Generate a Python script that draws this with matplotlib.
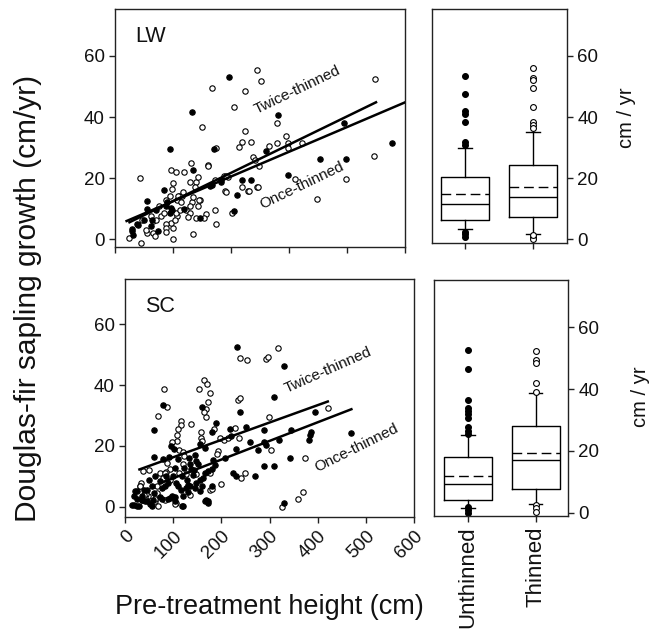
import matplotlib
matplotlib.use('Agg')
import matplotlib.pyplot as plt
import numpy as np

plt.rcParams['font.family'] = ['Liberation Sans', 'DejaVu Sans']

# ---------------- LW scatter data ----------------
lw_open_x = [244.6, 251.4, 167.4, 224.6, 448.6, 204.6, 280, 150.3, 224.6, 294.3, 218.3, 234.9, 214.3,
             322.9, 298.9, 280, 265.7, 298.9, 174.3, 445.7, 237.1, 241.1, 248.6, 130.3, 160, 309.7,
             398.3, 349.1, 42.9, 96.6, 118.3, 104.6, 100, 97.7, 128.6, 138.9, 142.9, 137.7, 173.1,
             188.6, 194.3, 189.7, 218.3, 229.1, 244.6, 110.3, 115.4, 106.9, 94.3, 88.6, 76, 132,
             128.6, 145.7, 142.3, 121.7, 128.6, 157.1, 153.1, 173.1, 140, 126.3, 201.7, 174.3,
             134.3, 100, 100, 97.1, 87.4, 87.4, 87.4, 65.7, 68.6, 55.4, 54.3, 65.7, 71.4, 78.9,
             106.9, 102.9, 45.7, 24, 44.6, 61.7, 84.6, 104.6, 111.4, 134.3, 144.6, 117.1, 108.6,
             114.3, 160.9, 190.8, 191.4, 246, 231]
lw_open_y = [55.3, 51.9, 49.4, 48.6, 52.5, 43.3, 38, 36.7, 35.3, 33.7, 31.7, 31.9, 30.2,
             31.5, 31.5, 31.5, 30.4, 29.8, 29.8, 27.1, 26.9, 26, 23.8, 24.9, 24.2, 19.7,
             19.7, 13.1, 20, 22.5, 21.9, 21.9, 18.4, 16.4, 18.6, 18.6, 20.3, 16.9, 19.5,
             20.8, 20.5, 15.6, 17, 15.6, 17, 14, 14.2, 12.9, 14, 12.9, 10.7, 12.3,
             11, 12.9, 10.9, 9.6, 8.5, 8.2, 6.9, 9.4, 6.9, 7.1, 8.5, 5,
             1.7, 0, 3.6, 5.2, 5, 3.6, 2.3, 2, 1.1, 2, 3.1, 5.8, 6.3, 7.4,
             7.4, 6.3, 6.3, 0.2, -1.3, 7.7, 8.5, 8.7, 9.4, 13.7, 12.9, 15.5, 14,
             12.3, 24, 15.5, 20.7, 17.1, 15.7]
lw_fill_x = [196, 133.1, 280.6, 394.9, 260, 94.3, 170.3, 478.3, 354.3, 398.3, 298.9, 134.3, 84,
             164, 182.9, 218.3, 234.3, 210.3, 89.7, 55.4, 55.4, 70.3, 87.4, 97.1, 118.9, 147.4,
             204.6, 74.3, 62.9, 64.6, 50.3, 37.1, 28.6, 30.3, 28.6, 40, 94.3, 98.9, 166.7, 182.2]
lw_fill_y = [53, 41.7, 40.7, 38, 28.7, 29.6, 29.6, 31.5, 26.2, 26.2, 21.1, 22.5, 16.2,
             17.5, 19.5, 19.5, 19.5, 14.5, 12.3, 12.6, 9.8, 9.6, 10.9, 10.2, 9.8, 6.9,
             9.2, 2.8, 4.2, 6.3, 6.3, 5, 3.3, 1.4, 2.5, 4.6, 8.5, 9.6, 17.7, 18.8]

# regression lines (x extent, slope, intercept)
lw_twice_x = [25, 450]
lw_twice_coef = [0.0925, 3.2]
lw_once_x = [20, 500]
lw_once_coef = [0.081, 4.3]

# ---------------- SC scatter data ----------------
sc_open_x = [80, 165, 152.6, 238.8, 252.6, 292, 297.5, 318, 86.2, 69, 117.2, 137.9, 117.2, 110.3,
             108.3, 108.3, 98.6, 112.4, 120.7, 86.2, 122.1, 93.1, 84.1, 72.4, 50.3, 37.9, 77.9,
             65.5, 32.4, 31, 48.3, 63.4, 69, 62.1, 105.5, 34.5, 43.4, 170.3, 175.9, 172.4, 167.6,
             169, 164.1, 184.1, 158.6, 158.6, 160.7, 197.9, 205.5, 213.8, 193.1, 191, 177.2,
             112.4, 148.3, 175.9, 200, 127.6, 120.7, 93.1, 234.6, 237.9, 298.8, 422.4, 227.7,
             236, 303.5, 374.7, 240.2, 250, 326.5, 358.8, 369, 42, 62.7, 83.4, 104.1, 31.7,
             66.2, 38.6, 135.1, 179.9, 83.4]
sc_open_y = [38.7, 41.8, 38.7, 48.9, 48.1, 48.6, 49.2, 52.2, 32.9, 29.9, 28.2, 27.1, 26.8, 25.5,
             23.6, 21.6, 21.3, 18.7, 18, 14.5, 16.7, 12.3, 11.4, 11, 12, 11.8, 9.6,
             7, 7.9, 7, 3.5, 3.5, 0.2, 1.9, 1.3, 2.4, 4.4, 40.3, 37.4, 34.3, 32.3,
             29.6, 31, 25.7, 24.6, 22.7, 21.6, 22.5, 21.9, 22.7, 18.4, 17.3, 11,
             11, 10.7, 5.5, 7.4, 10.7, 14, 9, 35, 35.6, 29.5, 32.5, 25.9,
             22.6, 18.8, 16, 9.6, 11.3, 0, 2.5, 4.8, 2.9, 2.6, 2.3, 1, 6.9,
             4.7, 4, 4, 5.8, 11.1]
sc_fill_x = [233, 330, 78, 60.7, 94.5, 101.4, 60, 77.9, 91.7, 109.7, 103.4, 84.8, 72.4, 82.8, 40,
             20.7, 19.3, 25.5, 13.8, 24.1, 55.2, 57.2, 44.8, 75.9, 89.7, 98.6, 103.4, 120.7, 34.5,
             41.4, 160, 189.7, 181.4, 155.2, 165.5, 182.8, 186.2, 181.4, 172.4, 165.5, 151.7,
             144.8, 133.1, 134.5, 122.1, 142.8, 162.1, 156.6, 146.9, 134.5, 127.6, 131, 110.3,
             117.2, 155.2, 167.6, 172.4, 181.4, 137.9, 148.3, 100, 105.5, 120.7, 309, 239.5, 395,
             217.4, 220.7, 252, 288.4, 343.7, 386.5, 385, 383, 469, 258.8, 288.4, 293.4, 319.5,
             231.3, 276, 207, 343, 224.2, 231.3, 269, 288.4, 309, 330, 18, 28.3, 35.2, 52.4, 73,
             93.7, 104.1, 119.3, 24.8, 45.5, 55.9, 76.6, 90.3, 59.3, 131.7, 145.5, 159.3, 166.2,
             173, 117.9, 128.3, 142.1, 62.7, 49]
sc_fill_y = [52.4, 46.4, 33.5, 25.3, 20, 19.1, 16.5, 15.6, 16.5, 15.8, 12.9, 10.1, 8.5, 6.8, 5.7,
             5.2, 3.5, 2.6, 0.8, 0.4, 0.4, 2.4, 2.1, 2.6, 2.6, 3.5, 1.9, 0.4, 3.5,
             1.9, 32.9, 27.5, 24.7, 20.5, 19.5, 15.3, 13.6, 12.5, 11.8, 11.2, 14,
             16.9, 16.2, 14, 12.9, 12, 9.6, 8.8, 7.9, 6.8, 6.3, 4.8, 6.8,
             5.7, 5.2, 2.4, 2.1, 7, 12.3, 15.1, 10.1, 7.9, 3.5, 36.1, 31.2, 31,
             25.6, 23.3, 26.1, 25.1, 25.3, 24.7, 23.6, 22.1, 24.2, 21.2, 21.2, 20.4, 22,
             19, 18.8, 16, 16, 11.1, 10, 10.2, 13.5, 13.5, 1.4, 0.7, 0.4, 2.3, 1, 3.4,
             2.9, 3.4, 0.4, 5.1, 5.6, 6.8, 6.1, 7.8, 4.7, 7.3, 6.1, 6.8, 1.8,
             1.3, 10, 8.9, 10.5, 10, 8.9]

sc_twice_x = [30, 421]
sc_twice_coef = [0.057, 10.6]
sc_once_x = [80, 470]
sc_once_coef = [0.0612, 3.3]

# ---------------- Box plot summaries ----------------
box_labels = ['Unthinned', 'Thinned']
# LW
lw_q1 = [6.2, 7.1]
lw_med = [11.4, 13.8]
lw_q3 = [20.4, 24.2]
lw_mean = [14.8, 16.9]
lw_whislo = [3.3, 1.6]
lw_whishi = [29.9, 35.2]
lw_fliers_unthinned = [53.4, 47.4, 42, 41, 38.3, 31.9, 30.8, 2.4, 1.6, 0.8]
lw_fliers_thinned = [56, 52.7, 52, 49.4, 43.4, 38.5, 37.4, 36.3, 0.8, 0.0, 1.2]
# SC
sc_q1 = [4.2, 7.7]
sc_med = [9.3, 17.2]
sc_q3 = [18.1, 28.0]
sc_mean = [12.0, 19.4]
sc_whislo = [1.5, 2.9]
sc_whishi = [25.1, 38.6]
sc_fliers_unthinned = [52.7, 46.6, 36.4, 34, 32.9, 31.8, 30.7, 27.7, 26.6, 25.5, 2.0, 0.9, 0.1]
sc_fliers_thinned = [52.4, 49.4, 48.4, 42.1, 38.9, 2.6, 1.5, 0.4]

# ---------------- Figure ----------------
W, H = 652, 641
fig = plt.figure(figsize=(W / 100, H / 100), dpi=100)


def px_axes(x0, y0, x1, y1):
    return fig.add_axes([x0 / W, 1 - y1 / H, (x1 - x0) / W, (y1 - y0) / H])


ax_lw = px_axes(115, 9, 405, 247)
ax_lwb = px_axes(432, 9, 567, 243)
ax_sc = px_axes(125, 279, 414, 517)
ax_scb = px_axes(434, 280, 568, 516)

spine_col = '#222222'
tick_fs = 13.5
ms = 15


def style(ax):
    for s in ax.spines.values():
        s.set_color(spine_col)
        s.set_linewidth(1.0)
    ax.tick_params(direction='out', length=4, width=1, colors=spine_col,
                   labelcolor='#111111', labelsize=tick_fs)


def scatter_panel(ax, ox, oy, fx, fy, tw_x, tw_c, on_x, on_c, xmax, ylim, tag,
                  tw_pos, on_pos, tw_ang, on_ang):
    ax.scatter(ox, oy, s=ms, facecolors='white', edgecolors='black', linewidths=0.8, zorder=3)
    ax.scatter(fx, fy, s=ms, facecolors='black', edgecolors='black', linewidths=0.8, zorder=3)
    tx = np.array(tw_x)
    ax.plot(tx, tw_c[0] * tx + tw_c[1], color='black', lw=1.8, zorder=4)
    oxl = np.array(on_x)
    ax.plot(oxl, on_c[0] * oxl + on_c[1], color='black', lw=1.8, zorder=4)
    ax.set_xlim(0, xmax)
    ax.set_ylim(*ylim)
    ax.set_yticks([0, 20, 40, 60])
    ax.set_xticks(np.arange(0, xmax + 1, 100))
    ax.text(0.07, 0.86, tag, transform=ax.transAxes, fontsize=15.5, color='#111111')
    ax.text(tw_pos[0], tw_pos[1], 'Twice-thinned', rotation=tw_ang, fontsize=11,
            ha='center', va='center', color='#111111', rotation_mode='anchor')
    ax.text(on_pos[0], on_pos[1], 'Once-thinned', rotation=on_ang, fontsize=11,
            ha='center', va='center', color='#111111', rotation_mode='anchor')
    style(ax)


scatter_panel(ax_lw, lw_open_x, lw_open_y, lw_fill_x, lw_fill_y,
              lw_twice_x, lw_twice_coef, lw_once_x, lw_once_coef,
              500, (-2.6, 75.4), 'LW', (315, 49), (322, 17.4), 25.7, 25.7)
ax_lw.set_xticklabels([])

scatter_panel(ax_sc, sc_open_x, sc_open_y, sc_fill_x, sc_fill_y,
              sc_twice_x, sc_twice_coef, sc_once_x, sc_once_coef,
              600, (-3.3, 74.8), 'SC', (421, 45), (480, 19.3), 24, 26.5)
for lab in ax_sc.get_xticklabels():
    lab.set_rotation(45)
    lab.set_ha('right')
    lab.set_va('top')
    lab.set_rotation_mode('anchor')


def box_panel(ax, q1, med, q3, mean, wlo, whi, fl_u, fl_t, xlim, ylim, show_labels):
    stats = []
    for i, fl in enumerate([fl_u, fl_t]):
        stats.append(dict(q1=q1[i], med=med[i], q3=q3[i], mean=mean[i],
                          whislo=wlo[i], whishi=whi[i], fliers=fl, label=box_labels[i]))
    res = ax.bxp(stats, positions=[1, 2], widths=0.71, showmeans=True, meanline=True,
                 showfliers=True, capwidths=0.2,
                 boxprops=dict(color='black', lw=1.0),
                 medianprops=dict(color='black', lw=1.0),
                 meanprops=dict(color='black', lw=1.0, linestyle=(0, (7, 3.5))),
                 whiskerprops=dict(color='black', lw=1.0),
                 capprops=dict(color='black', lw=1.0),
                 flierprops=dict(marker='o', markersize=4.2, markeredgewidth=0.8,
                                 markeredgecolor='black'))
    res['fliers'][0].set_markerfacecolor('black')
    res['fliers'][1].set_markerfacecolor('white')
    ax.set_xlim(*xlim)
    ax.set_ylim(*ylim)
    ax.yaxis.tick_right()
    ax.yaxis.set_label_position('right')
    ax.set_yticks([0, 20, 40, 60])
    style(ax)
    ax.tick_params(axis='x', length=4)
    if show_labels:
        ax.set_xticklabels(box_labels, rotation=90, fontsize=16, va='top', ha='center')
    else:
        ax.set_xticklabels([])


box_panel(ax_lwb, lw_q1, lw_med, lw_q3, lw_mean, lw_whislo, lw_whishi,
          lw_fliers_unthinned, lw_fliers_thinned, (0.515, 2.5), (-1.3, 75.4), False)
box_panel(ax_scb, sc_q1, sc_med, sc_q3, sc_mean, sc_whislo, sc_whishi,
          sc_fliers_unthinned, sc_fliers_thinned, (0.496, 2.48), (-1.0, 75.2), True)

fig.text(627 / W, 1 - 118 / H, 'cm / yr', rotation=90, ha='center', va='center',
         fontsize=14.5, color='#111111')
fig.text(641 / W, 1 - 397 / H, 'cm / yr', rotation=90, ha='center', va='center',
         fontsize=14.5, color='#111111')

fig.text(28 / W, 1 - 298 / H, 'Douglas-fir sapling growth (cm/yr)', rotation=90,
         ha='center', va='center', fontsize=21.5, color='#111111')
fig.text(269 / W, 1 - 607 / H, 'Pre-treatment height (cm)', ha='center', va='center',
         fontsize=19.5, color='#111111')

fig.savefig('out.png', dpi=100)
